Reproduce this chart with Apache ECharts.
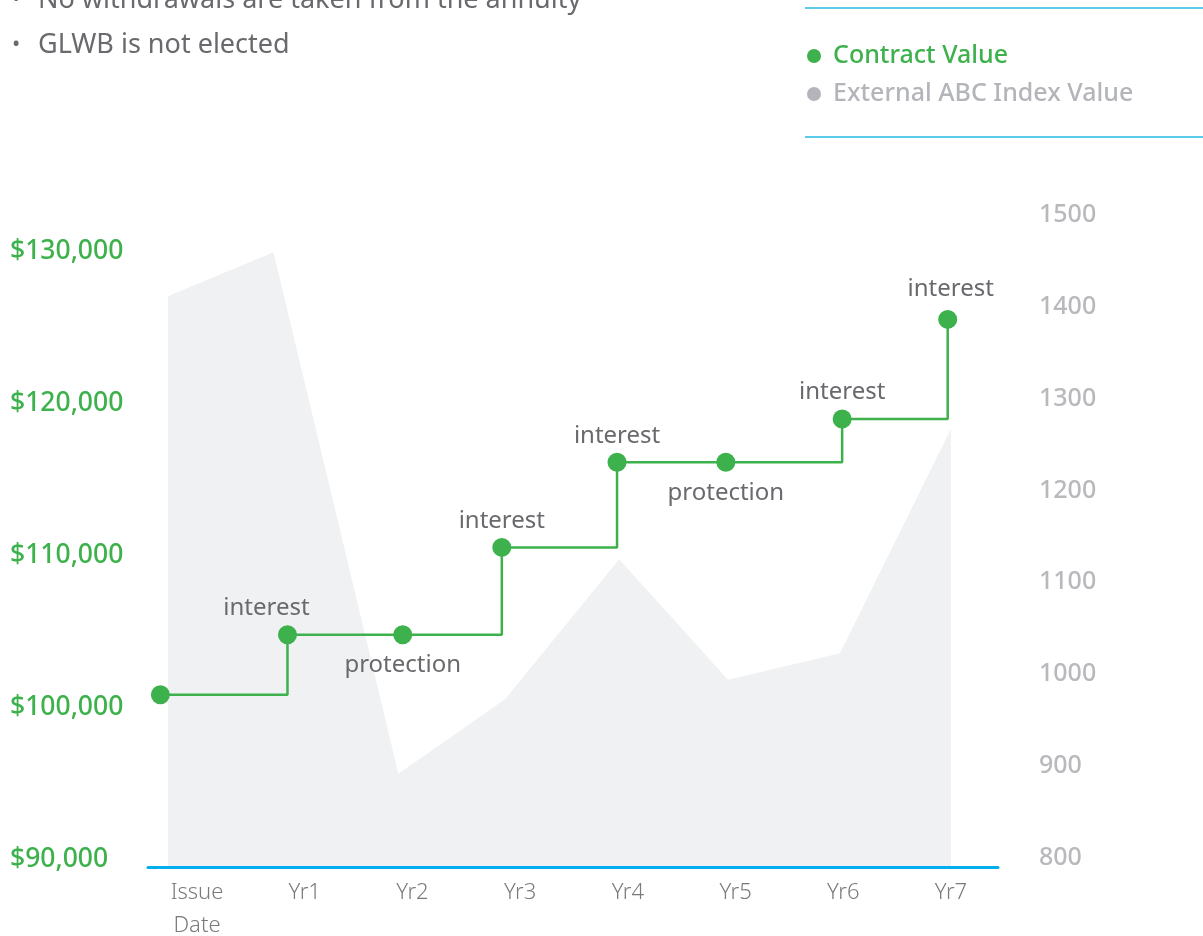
<!DOCTYPE html>
<html>
<head>
<meta charset="utf-8">
<script src="https://cdn.jsdelivr.net/npm/echarts@6/dist/echarts.min.js"></script>
<style>
  html, body { margin: 0; padding: 0; background: #fff; }
  #chart { width: 1203px; height: 936px; }
</style>
</head>
<body>
<div id="chart"></div>
<script>
// ---------------------------------------------------------------- data
const categories = ['Issue\nDate', 'Yr1', 'Yr2', 'Yr3', 'Yr4', 'Yr5', 'Yr6', 'Yr7'];

// contract value (left axis), x in years from issue date
const contractX = [-0.34, 0.84, 1.91, 2.83, 3.90, 4.91, 5.99, 6.97];
const contractValue = [100800, 104750, 104750, 110500, 116100, 116100, 118950, 125500];
const pointNotes = ['', 'interest', 'protection', 'interest', 'interest', 'protection', 'interest', 'interest'];

// external index (right axis)
const indexX = [-0.27, 0.71, 1.87, 2.86, 3.92, 4.93, 5.97, 7.0];
const indexValue = [1411, 1459, 892, 973, 1125, 994, 1023, 1267];

const notes = ['No withdrawals are taken from the annuity', 'GLWB is not elected'];

// ---------------------------------------------------------------- style
const GREEN = '#3db14b';
const GREY_TXT = '#b4b5ba';
const DARK_TXT = '#6a6a6e';
const FONT = '"Noto Sans", sans-serif';

let chart = echarts.init(document.getElementById('chart'));

function money(v) {
    return '$' + String(v).replace(/\B(?=(\d{3})+(?!\d))/g, ',');
}

let contractData = contractX.map(function (x, i) {
    let item = { value: [x, contractValue[i]] };
    let note = pointNotes[i];
    if (note) {
        item.label = {
            show: true,
            formatter: note,
            position: note == 'protection' ? 'bottom' : 'top',
            distance: note == 'protection' ? 9 : 5
        };
        // a couple of labels sit off-centre in the original
        if (i == 1) item.label.offset = [-21, 0];
        if (i == 7) item.label.offset = [3, -4];
    }
    return item;
});

let indexData = indexX.map(function (x, i) { return [x, indexValue[i]]; });

// bullet notes + legend rules
let graphics = [];
notes.forEach(function (t, i) {
    let y = 0 + i * 45;
    graphics.push({ type: 'text', style: { text: '•', x: 12, y: y, verticalAlign: 'middle', font: '22px ' + FONT, fill: DARK_TXT } });
    graphics.push({ type: 'text', style: { text: t, x: 38, y: y, verticalAlign: 'middle', font: '27px ' + FONT, fill: DARK_TXT } });
});
graphics.push({ type: 'line', shape: { x1: 805, y1: 8, x2: 1203, y2: 8 }, style: { stroke: '#5ccbe9', lineWidth: 2 } });
graphics.push({ type: 'line', shape: { x1: 805, y1: 137, x2: 1203, y2: 137 }, style: { stroke: '#5ccbe9', lineWidth: 2 } });

let option = {
    animation: false,
    textStyle: { fontFamily: FONT },
    graphic: graphics,
    legend: {
        orient: 'vertical',
        left: 807,
        top: 43,
        padding: 0,
        itemGap: 12,
        itemWidth: 14,
        itemHeight: 14,
        icon: 'circle',
        textStyle: { fontSize: 25, fontWeight: 500, lineHeight: 26, padding: [0, 0, 0, 7] },
        data: [
            { name: 'Contract Value', textStyle: { color: GREEN } },
            { name: 'External ABC Index Value', textStyle: { color: GREY_TXT } }
        ]
    },
    grid: [
        { left: 148, right: 205, top: 214.5, bottom: 69, outerBoundsMode: 'none' },
        // label strip for the year names
        { left: 197, right: 252, top: 214.5, bottom: 69, outerBoundsMode: 'none' }
    ],
    xAxis: [
        {
            type: 'value', gridIndex: 0, min: -0.455, max: 7.437, z: 5,
            axisLabel: { show: false }, axisTick: { show: false }, splitLine: { show: false },
            axisLine: { show: true, onZero: false, lineStyle: { color: '#00aeef', width: 3 } }
        },
        {
            type: 'category', gridIndex: 1, boundaryGap: false, data: categories,
            axisLine: { show: false }, axisTick: { show: false }, splitLine: { show: false },
            axisLabel: { interval: 0, color: '#7a7a7e', fontSize: 22, fontWeight: 300, lineHeight: 33, margin: 9 }
        }
    ],
    yAxis: [
        {
            type: 'value', gridIndex: 0, position: 'left', min: 89474, max: 132401, splitNumber: 4,
            axisLine: { show: false }, axisTick: { show: false }, splitLine: { show: false },
            axisLabel: {
                color: GREEN, fontSize: 26.5, fontWeight: 500, align: 'left', margin: 138,
                showMinLabel: false, showMaxLabel: false, formatter: money
            }
        },
        {
            type: 'value', gridIndex: 0, position: 'right', min: 790.5, max: 1500, splitNumber: 7,
            axisLine: { show: false }, axisTick: { show: false }, splitLine: { show: false },
            axisLabel: {
                color: '#b8b8bd', fontSize: 25, fontWeight: 500, align: 'left', margin: 41,
                showMinLabel: false, formatter: function (v) { return String(v); }
            }
        },
        { type: 'value', gridIndex: 1, show: false }
    ],
    series: [
        {
            name: 'External ABC Index Value',
            type: 'line',
            xAxisIndex: 0,
            yAxisIndex: 1,
            data: indexData,
            symbol: 'none',
            lineStyle: { width: 0, color: GREY_TXT },
            itemStyle: { color: GREY_TXT },
            areaStyle: { color: '#f0f1f3', opacity: 1, origin: 'start' },
            z: 1
        },
        {
            name: 'Contract Value',
            type: 'line',
            xAxisIndex: 0,
            yAxisIndex: 0,
            step: 'end',
            data: contractData,
            symbol: 'circle',
            symbolSize: 19,
            showAllSymbol: true,
            lineStyle: { color: GREEN, width: 2.5 },
            itemStyle: { color: GREEN },
            label: { color: DARK_TXT, fontSize: 24, lineHeight: 24 },
            z: 3
        }
    ]
};

chart.setOption(option);
</script>
</body>
</html>
